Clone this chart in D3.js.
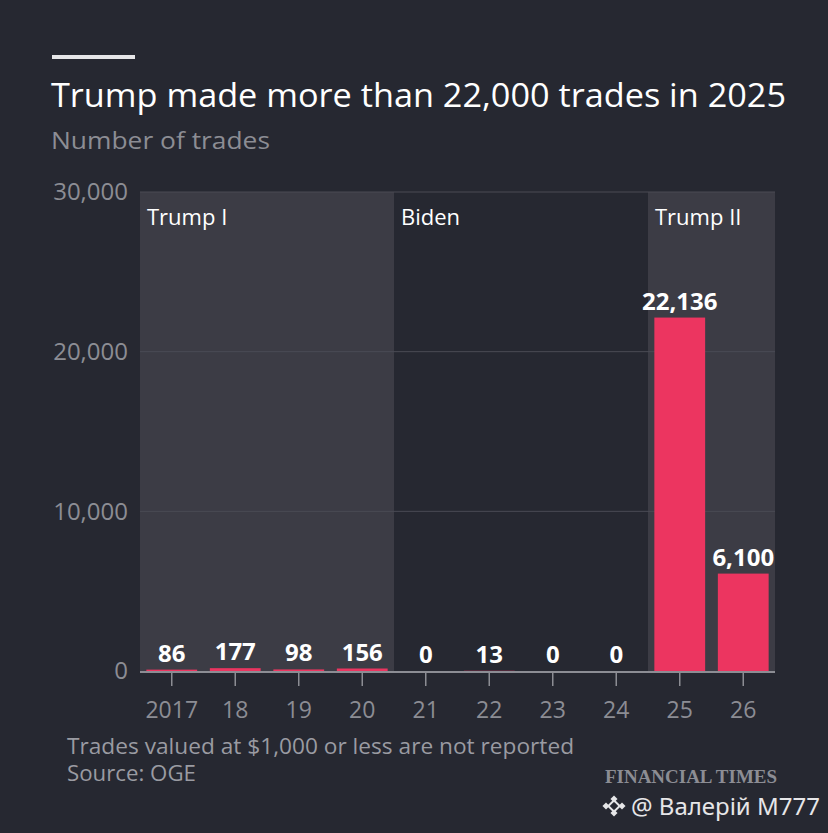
<!DOCTYPE html>
<html>
<head>
<meta charset="utf-8">
<script src="https://cdn.jsdelivr.net/npm/d3@7"></script>
<style>
  html, body { margin: 0; padding: 0; background: #262831; }
</style>
</head>
<body>
<script>
// data
const years = ["2017", "18", "19", "20", "21", "22", "23", "24", "25", "26"];
const trades = [86, 177, 98, 156, 0, 13, 0, 0, 22136, 6100];
const yTicks = [0, 10000, 20000, 30000];
const terms = [
    { name: "Trump I", from: "2017", to: "20", shaded: true },
    { name: "Biden", from: "21", to: "24", shaded: false },
    { name: "Trump II", from: "25", to: "26", shaded: true }
];

const W = 828, H = 833;
const sans = "Open Sans, Noto Sans, sans-serif";
const svg = d3.select("body").append("svg")
    .attr("width", W)
    .attr("height", H)
    .style("font-family", sans);

svg.append("rect").attr("width", W).attr("height", H).attr("fill", "#262831");

// layout
const plotL = 140, plotR = 775, plotT = 192, plotB = 671;

const x = d3.scaleBand().domain(years).range([plotL, plotR]).paddingInner(0.2).paddingOuter(0.1);
const y = d3.scaleLinear().domain([0, 30000]).range([plotB, plotT]);

// small rule + headings
svg.append("rect").attr("x", 52).attr("y", 55).attr("width", 83).attr("height", 4).attr("fill", "#e6e6e8");

svg.append("text")
    .attr("x", 51).attr("y", 107)
    .attr("fill", "#ffffff")
    .attr("font-size", 32)
    .attr("textLength", 735).attr("lengthAdjust", "spacingAndGlyphs")
    .text("Trump made more than 22,000 trades in 2025");

svg.append("text")
    .attr("x", 51).attr("y", 149)
    .attr("fill", "#8c8d94")
    .attr("font-size", 24)
    .attr("textLength", 219).attr("lengthAdjust", "spacingAndGlyphs")
    .text("Number of trades");

// term bands
const step = x.step();
const bandStart = d => x(d) - step * x.paddingInner() / 2;
terms.forEach(t => {
    const x0 = t.from === years[0] ? plotL : bandStart(t.from);
    const x1 = t.to === years[years.length - 1] ? plotR : bandStart(t.to) + step;
    if (t.shaded) {
        svg.append("rect")
            .attr("x", x0).attr("y", plotT)
            .attr("width", x1 - x0).attr("height", plotB - plotT)
            .attr("fill", "#3c3c45");
    }
    svg.append("text")
        .attr("x", x0 + 7).attr("y", plotT + 33)
        .attr("fill", "#ffffff")
        .attr("font-size", 22)
        .text(t.name);
});

// gridlines
svg.append("g")
    .selectAll("line")
    .data(yTicks.filter(d => d > 0))
    .join("line")
    .attr("x1", plotL).attr("x2", plotR)
    .attr("y1", d => y(d)).attr("y2", d => y(d))
    .attr("stroke", "#4a4b55")
    .attr("stroke-width", 1);

// y axis labels
const yAxis = svg.append("g")
    .attr("transform", `translate(${plotL - 9},0)`)
    .call(d3.axisLeft(y).tickValues(yTicks).tickSize(0).tickFormat(d3.format(",")));
yAxis.select(".domain").remove();
yAxis.selectAll("text")
    .attr("fill", "#8c8d94")
    .style("font-size", "24px")
    .style("font-family", sans);

// bars
svg.append("g")
    .selectAll("rect")
    .data(years)
    .join("rect")
    .attr("x", d => x(d))
    .attr("width", x.bandwidth())
    .attr("y", (d, i) => y(trades[i]))
    .attr("height", (d, i) => plotB - y(trades[i]))
    .attr("fill", "#ec3560");

// value labels
svg.append("g")
    .selectAll("text")
    .data(years)
    .join("text")
    .attr("x", d => x(d) + x.bandwidth() / 2)
    .attr("y", (d, i) => y(trades[i]) - 8)
    .attr("text-anchor", "middle")
    .attr("fill", "#ffffff")
    .attr("font-size", 24)
    .attr("font-weight", "bold")
    .text((d, i) => d3.format(",")(trades[i]));

// x axis
const xAxis = svg.append("g")
    .attr("transform", `translate(0,${plotB + 1})`)
    .call(d3.axisBottom(x).tickSize(14).tickPadding(16));
xAxis.select(".domain")
    .attr("d", `M${plotL},0H${plotR}`)
    .attr("stroke", "#8c8d94")
    .attr("stroke-width", 2);
xAxis.selectAll(".tick line").attr("stroke", "#8c8d94").attr("stroke-width", 1.5);
xAxis.selectAll(".tick text")
    .attr("fill", "#8c8d94")
    .style("font-size", "23px")
    .style("font-family", sans);

// footnotes
svg.append("text")
    .attr("x", 67).attr("y", 754)
    .attr("fill", "#9a9ba2")
    .attr("font-size", 21)
    .attr("textLength", 507).attr("lengthAdjust", "spacingAndGlyphs")
    .text("Trades valued at $1,000 or less are not reported");
svg.append("text")
    .attr("x", 67).attr("y", 781)
    .attr("fill", "#9a9ba2")
    .attr("font-size", 21)
    .attr("textLength", 129).attr("lengthAdjust", "spacingAndGlyphs")
    .text("Source: OGE");

svg.append("text")
    .attr("x", 777).attr("y", 783)
    .attr("text-anchor", "end")
    .attr("fill", "#8c8d94")
    .style("font-size", "18px")
    .style("font-family", "Liberation Serif, DejaVu Serif, serif")
    .style("font-weight", "bold")
    .attr("textLength", 172).attr("lengthAdjust", "spacingAndGlyphs")
    .text("FINANCIAL TIMES");

// watermark
const wm = svg.append("g").attr("transform", "translate(614,806)");
[[0, -7], [-8, 0], [8, 0], [0, 7]].forEach(p => {
    wm.append("rect")
        .attr("x", p[0] - 2.5).attr("y", p[1] - 2.5)
        .attr("width", 5).attr("height", 5)
        .attr("transform", `rotate(45,${p[0]},${p[1]})`)
        .attr("fill", "#e6e6e8");
});
wm.append("rect")
    .attr("x", -4).attr("y", -4).attr("width", 8).attr("height", 8)
    .attr("transform", "rotate(45)")
    .attr("fill", "none").attr("stroke", "#e6e6e8").attr("stroke-width", 2);
svg.append("text")
    .attr("x", 631).attr("y", 815)
    .attr("fill", "#e6e6e8")
    .style("font-size", "24px")
    .style("font-family", "Noto Sans, sans-serif")
    .text("@ Валерій М777");
</script>
</body>
</html>
